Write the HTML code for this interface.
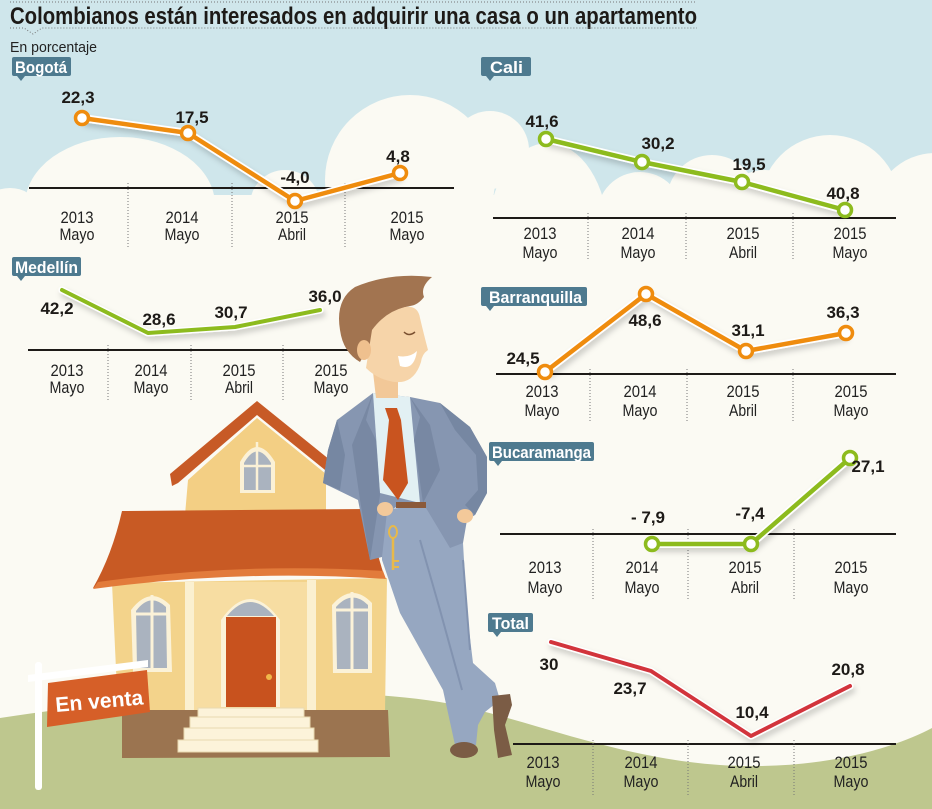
<!DOCTYPE html>
<html><head><meta charset="utf-8"><style>
html,body{margin:0;padding:0;background:#fbfaf3;}
svg{display:block}
text{font-family:"Liberation Sans Narrow","Liberation Sans",sans-serif;}
.n{font-family:"Liberation Sans",sans-serif;font-weight:bold;font-size:17px;fill:#1d1a17;text-anchor:middle}
.x{font-size:17px;fill:#222;text-anchor:middle}
.lb{font-family:"Liberation Sans",sans-serif;font-weight:bold;font-size:16.5px;fill:#fff}
.ax{stroke:#1d1a17;stroke-width:2}
.sp{stroke:#777;stroke-width:1;stroke-dasharray:1 2}
</style></head><body>
<svg width="932" height="809" viewBox="0 0 932 809">
<defs>
<filter id="sh" x="-10%" y="-30%" width="120%" height="160%"><feDropShadow dx="2" dy="4" stdDeviation="3" flood-color="#000" flood-opacity="0.18"/></filter>
</defs>
<!-- background -->
<rect x="0" y="0" width="932" height="809" fill="#fbfaf3"/>
<rect x="0" y="0" width="932" height="200" fill="#cfe6eb"/>
<g fill="#fbfaf3">
<ellipse cx="10" cy="205" rx="25" ry="17"/>
<ellipse cx="120" cy="205" rx="95" ry="68"/>
<circle cx="285" cy="205" r="35"/>
<circle cx="410" cy="180" r="85"/>
<circle cx="490" cy="150" r="39"/>
<ellipse cx="548" cy="235" rx="60" ry="92"/>
<circle cx="640" cy="215" r="43"/>
<circle cx="712" cy="200" r="45"/>
<circle cx="765" cy="215" r="45"/>
<circle cx="830" cy="205" r="70"/>
<circle cx="935" cy="215" r="62"/>
<rect x="0" y="195" width="932" height="614"/>
</g>
<path d="M0,718 C150,695 350,680 470,708 C560,730 650,768 760,766 C840,765 900,745 932,728 L932,809 L0,809 Z" fill="#bec78e"/>

<!-- title -->
<path d="M10,2 H697" stroke="#777" stroke-width="1" stroke-dasharray="1 2"/>
<text x="10" y="24" font-size="24" font-weight="bold" fill="#1d1a17" textLength="687" lengthAdjust="spacingAndGlyphs">Colombianos están interesados en adquirir una casa o un apartamento</text>
<path d="M10,28 H24 L33,34 L42,28 H697" fill="none" stroke="#777" stroke-width="1" stroke-dasharray="1 2"/>
<text x="10" y="52" font-size="15" fill="#222" textLength="87" lengthAdjust="spacingAndGlyphs">En porcentaje</text>

<!-- label boxes -->
<g fill="#4e7a8f">
<rect x="12" y="57" width="59" height="19" rx="2"/><path d="M17,76 L21,81 L25,76Z"/>
<rect x="481" y="57" width="50" height="19" rx="2"/><path d="M486,76 L490,81 L494,76Z"/>
<rect x="12" y="257" width="69" height="19" rx="2"/><path d="M17,276 L21,281 L25,276Z"/>
<rect x="481" y="287" width="106" height="19" rx="2"/><path d="M486,306 L490,311 L494,306Z"/>
<rect x="489" y="442" width="105" height="19" rx="2"/><path d="M494,461 L498,466 L502,461Z"/>
<rect x="488" y="613" width="45" height="19" rx="2"/><path d="M493,632 L497,637 L501,632Z"/>
</g>
<text class="lb" x="15" y="73" textLength="52" lengthAdjust="spacingAndGlyphs">Bogotá</text>
<text class="lb" x="490" y="73" textLength="33" lengthAdjust="spacingAndGlyphs">Cali</text>
<text class="lb" x="15" y="273" textLength="63" lengthAdjust="spacingAndGlyphs">Medellín</text>
<text class="lb" x="489" y="303" textLength="93" lengthAdjust="spacingAndGlyphs">Barranquilla</text>
<text class="lb" x="492" y="458" textLength="99" lengthAdjust="spacingAndGlyphs">Bucaramanga</text>
<text class="lb" x="492" y="629" textLength="37" lengthAdjust="spacingAndGlyphs">Total</text>

<!-- Bogotá -->
<line class="ax" x1="29" y1="188" x2="454" y2="188"/>
<line class="sp" x1="128" y1="183" x2="128" y2="248"/>
<line class="sp" x1="232" y1="183" x2="232" y2="248"/>
<line class="sp" x1="345" y1="183" x2="345" y2="248"/>
<g class="x">
<text x="77" y="223" textLength="33" lengthAdjust="spacingAndGlyphs">2013</text><text x="77" y="240" textLength="35" lengthAdjust="spacingAndGlyphs">Mayo</text>
<text x="182" y="223" textLength="33" lengthAdjust="spacingAndGlyphs">2014</text><text x="182" y="240" textLength="35" lengthAdjust="spacingAndGlyphs">Mayo</text>
<text x="292" y="223" textLength="33" lengthAdjust="spacingAndGlyphs">2015</text><text x="292" y="240" textLength="28" lengthAdjust="spacingAndGlyphs">Abril</text>
<text x="407" y="223" textLength="33" lengthAdjust="spacingAndGlyphs">2015</text><text x="407" y="240" textLength="35" lengthAdjust="spacingAndGlyphs">Mayo</text>
</g>
<g filter="url(#sh)">
<polyline points="82,118 188,133 295,201 400,173" fill="none" stroke="#fff" stroke-width="8" stroke-linejoin="round"/>
</g>
<polyline points="82,118 188,133 295,201 400,173" fill="none" stroke="#ef8c0e" stroke-width="4.5" stroke-linejoin="round"/>
<g fill="#fff" stroke="#ef8c0e" stroke-width="3.5">
<circle cx="82" cy="118" r="6.5"/><circle cx="188" cy="133" r="6.5"/><circle cx="295" cy="201" r="6.5"/><circle cx="400" cy="173" r="6.5"/>
</g>
<text class="n" x="78" y="103">22,3</text>
<text class="n" x="192" y="123">17,5</text>
<text class="n" x="295" y="183">-4,0</text>
<text class="n" x="398" y="162">4,8</text>

<!-- Cali -->
<line class="ax" x1="493" y1="218" x2="896" y2="218"/>
<line class="sp" x1="588" y1="213" x2="588" y2="260"/>
<line class="sp" x1="686" y1="213" x2="686" y2="260"/>
<line class="sp" x1="793" y1="213" x2="793" y2="260"/>
<g class="x">
<text x="540" y="239" textLength="33" lengthAdjust="spacingAndGlyphs">2013</text><text x="540" y="258" textLength="35" lengthAdjust="spacingAndGlyphs">Mayo</text>
<text x="638" y="239" textLength="33" lengthAdjust="spacingAndGlyphs">2014</text><text x="638" y="258" textLength="35" lengthAdjust="spacingAndGlyphs">Mayo</text>
<text x="743" y="239" textLength="33" lengthAdjust="spacingAndGlyphs">2015</text><text x="743" y="258" textLength="28" lengthAdjust="spacingAndGlyphs">Abril</text>
<text x="850" y="239" textLength="33" lengthAdjust="spacingAndGlyphs">2015</text><text x="850" y="258" textLength="35" lengthAdjust="spacingAndGlyphs">Mayo</text>
</g>
<g filter="url(#sh)">
<polyline points="546,139 642,162 742,182 845,210" fill="none" stroke="#fff" stroke-width="8" stroke-linejoin="round"/>
</g>
<polyline points="546,139 642,162 742,182 845,210" fill="none" stroke="#8dbb1e" stroke-width="4.5" stroke-linejoin="round"/>
<g fill="#fff" stroke="#8dbb1e" stroke-width="3.5">
<circle cx="546" cy="139" r="6.5"/><circle cx="642" cy="162" r="6.5"/><circle cx="742" cy="182" r="6.5"/><circle cx="845" cy="210" r="6.5"/>
</g>
<text class="n" x="542" y="127">41,6</text>
<text class="n" x="658" y="149">30,2</text>
<text class="n" x="749" y="170">19,5</text>
<text class="n" x="843" y="199">40,8</text>

<!-- Medellín -->
<line class="ax" x1="28" y1="350" x2="355" y2="350"/>
<line class="sp" x1="108" y1="345" x2="108" y2="402"/>
<line class="sp" x1="191" y1="345" x2="191" y2="402"/>
<line class="sp" x1="283" y1="345" x2="283" y2="402"/>
<g class="x">
<text x="67" y="376" textLength="33" lengthAdjust="spacingAndGlyphs">2013</text><text x="67" y="393" textLength="35" lengthAdjust="spacingAndGlyphs">Mayo</text>
<text x="151" y="376" textLength="33" lengthAdjust="spacingAndGlyphs">2014</text><text x="151" y="393" textLength="35" lengthAdjust="spacingAndGlyphs">Mayo</text>
<text x="239" y="376" textLength="33" lengthAdjust="spacingAndGlyphs">2015</text><text x="239" y="393" textLength="28" lengthAdjust="spacingAndGlyphs">Abril</text>
<text x="331" y="376" textLength="33" lengthAdjust="spacingAndGlyphs">2015</text><text x="331" y="393" textLength="35" lengthAdjust="spacingAndGlyphs">Mayo</text>
</g>
<g filter="url(#sh)">
<polyline points="62,290 148,333 235,327 320,310" fill="none" stroke="#fff" stroke-width="7" stroke-linejoin="round" stroke-linecap="round"/>
</g>
<polyline points="62,290 148,333 235,327 320,310" fill="none" stroke="#8dbb1e" stroke-width="4" stroke-linejoin="round" stroke-linecap="round"/>
<text class="n" x="57" y="314">42,2</text>
<text class="n" x="159" y="325">28,6</text>
<text class="n" x="231" y="318">30,7</text>
<text class="n" x="325" y="302">36,0</text>

<!-- Barranquilla -->
<line class="ax" x1="496" y1="374" x2="896" y2="374"/>
<line class="sp" x1="590" y1="369" x2="590" y2="423"/>
<line class="sp" x1="687" y1="369" x2="687" y2="423"/>
<line class="sp" x1="793" y1="369" x2="793" y2="423"/>
<g class="x">
<text x="542" y="397" textLength="33" lengthAdjust="spacingAndGlyphs">2013</text><text x="542" y="416" textLength="35" lengthAdjust="spacingAndGlyphs">Mayo</text>
<text x="640" y="397" textLength="33" lengthAdjust="spacingAndGlyphs">2014</text><text x="640" y="416" textLength="35" lengthAdjust="spacingAndGlyphs">Mayo</text>
<text x="743" y="397" textLength="33" lengthAdjust="spacingAndGlyphs">2015</text><text x="743" y="416" textLength="28" lengthAdjust="spacingAndGlyphs">Abril</text>
<text x="851" y="397" textLength="33" lengthAdjust="spacingAndGlyphs">2015</text><text x="851" y="416" textLength="35" lengthAdjust="spacingAndGlyphs">Mayo</text>
</g>
<g filter="url(#sh)">
<polyline points="545,372 646,294 746,351 846,333" fill="none" stroke="#fff" stroke-width="8" stroke-linejoin="round"/>
</g>
<polyline points="545,372 646,294 746,351 846,333" fill="none" stroke="#ef8c0e" stroke-width="4.5" stroke-linejoin="round"/>
<g fill="#fff" stroke="#ef8c0e" stroke-width="3.5">
<circle cx="545" cy="372" r="6.5"/><circle cx="646" cy="294" r="6.5"/><circle cx="746" cy="351" r="6.5"/><circle cx="846" cy="333" r="6.5"/>
</g>
<text class="n" x="523" y="364">24,5</text>
<text class="n" x="645" y="326">48,6</text>
<text class="n" x="748" y="336">31,1</text>
<text class="n" x="843" y="318">36,3</text>

<!-- Bucaramanga -->
<line class="ax" x1="500" y1="534" x2="896" y2="534"/>
<line class="sp" x1="593" y1="529" x2="593" y2="600"/>
<line class="sp" x1="688" y1="529" x2="688" y2="600"/>
<line class="sp" x1="794" y1="529" x2="794" y2="600"/>
<g class="x">
<text x="545" y="573" textLength="33" lengthAdjust="spacingAndGlyphs">2013</text><text x="545" y="593" textLength="35" lengthAdjust="spacingAndGlyphs">Mayo</text>
<text x="642" y="573" textLength="33" lengthAdjust="spacingAndGlyphs">2014</text><text x="642" y="593" textLength="35" lengthAdjust="spacingAndGlyphs">Mayo</text>
<text x="745" y="573" textLength="33" lengthAdjust="spacingAndGlyphs">2015</text><text x="745" y="593" textLength="28" lengthAdjust="spacingAndGlyphs">Abril</text>
<text x="851" y="573" textLength="33" lengthAdjust="spacingAndGlyphs">2015</text><text x="851" y="593" textLength="35" lengthAdjust="spacingAndGlyphs">Mayo</text>
</g>
<g filter="url(#sh)">
<polyline points="652,544 751,544 850,458" fill="none" stroke="#fff" stroke-width="8" stroke-linejoin="round"/>
</g>
<polyline points="652,544 751,544 850,458" fill="none" stroke="#8dbb1e" stroke-width="4.5" stroke-linejoin="round"/>
<g fill="#fff" stroke="#8dbb1e" stroke-width="3.5">
<circle cx="652" cy="544" r="6.5"/><circle cx="751" cy="544" r="6.5"/><circle cx="850" cy="458" r="6.5"/>
</g>
<text class="n" x="648" y="523">- 7,9</text>
<text class="n" x="750" y="519">-7,4</text>
<text class="n" x="868" y="472">27,1</text>

<!-- Total -->
<line class="ax" x1="513" y1="744" x2="896" y2="744"/>
<line class="sp" x1="593" y1="740" x2="593" y2="795"/>
<line class="sp" x1="688" y1="740" x2="688" y2="795"/>
<line class="sp" x1="794" y1="740" x2="794" y2="795"/>
<g class="x">
<text x="543" y="768" textLength="33" lengthAdjust="spacingAndGlyphs">2013</text><text x="543" y="787" textLength="35" lengthAdjust="spacingAndGlyphs">Mayo</text>
<text x="641" y="768" textLength="33" lengthAdjust="spacingAndGlyphs">2014</text><text x="641" y="787" textLength="35" lengthAdjust="spacingAndGlyphs">Mayo</text>
<text x="744" y="768" textLength="33" lengthAdjust="spacingAndGlyphs">2015</text><text x="744" y="787" textLength="28" lengthAdjust="spacingAndGlyphs">Abril</text>
<text x="851" y="768" textLength="33" lengthAdjust="spacingAndGlyphs">2015</text><text x="851" y="787" textLength="35" lengthAdjust="spacingAndGlyphs">Mayo</text>
</g>
<g filter="url(#sh)">
<polyline points="551,642 651,671 751,736 850,686" fill="none" stroke="#fff" stroke-width="7" stroke-linejoin="round" stroke-linecap="round"/>
</g>
<polyline points="551,642 651,671 751,736 850,686" fill="none" stroke="#d2343c" stroke-width="4" stroke-linejoin="round" stroke-linecap="round"/>
<text class="n" x="549" y="670">30</text>
<text class="n" x="630" y="694">23,7</text>
<text class="n" x="752" y="718">10,4</text>
<text class="n" x="848" y="675">20,8</text>

<!-- House -->
<polygon points="188,480 257,418 326,474 326,515 185,515" fill="#f3cf84"/>
<polygon points="170,474 257,401 330,460 330,474 257,415 178,483 172,486" fill="#c75a26"/>
<path d="M240,493 L240,462 Q257,432 275,462 L275,493 Z" fill="#fbf1d6"/>
<path d="M244,490 L244,463 Q257,440 271,463 L271,490 Z" fill="#aab3bf"/>
<line x1="257" y1="442" x2="257" y2="490" stroke="#fbf1d6" stroke-width="2.5"/>
<line x1="244" y1="466" x2="271" y2="466" stroke="#fbf1d6" stroke-width="2.5"/>
<path d="M112,583 L387,578 L385,712 L118,712 Z" fill="#f3d38b"/>
<rect x="192" y="582" width="117" height="128" fill="#f7dda2"/>
<path d="M122,511 L367,509 Q374,545 385,578 Q240,568 93,588 Q112,555 122,511 Z" fill="#c85a24"/>
<path d="M98,582 Q240,562 383,571 L386,579 Q240,569 93,589 Z" fill="#e27b3b"/>
<rect x="185" y="582" width="9" height="128" fill="#fbf0d0"/>
<rect x="307" y="580" width="9" height="130" fill="#fbf0d0"/>
<path d="M133,672 L131,610 Q150,585 170,605 L172,672 Z" fill="#fbf2d8"/>
<path d="M137,668 L136,611 Q150,592 166,607 L167,668 Z" fill="#aab3bf"/>
<line x1="152" y1="595" x2="152" y2="668" stroke="#fbf2d8" stroke-width="3"/>
<line x1="136" y1="614" x2="167" y2="614" stroke="#fbf2d8" stroke-width="3"/>
<path d="M333,673 L332,605 Q352,582 372,603 L372,673 Z" fill="#fbf2d8"/>
<path d="M337,669 L336,607 Q352,589 368,605 L368,669 Z" fill="#aab3bf"/>
<line x1="352" y1="592" x2="352" y2="669" stroke="#fbf2d8" stroke-width="3"/>
<line x1="336" y1="610" x2="368" y2="610" stroke="#fbf2d8" stroke-width="3"/>
<path d="M221,707 L221,620 Q250,578 280,620 L280,707 Z" fill="#fbf2d8"/>
<path d="M227,616 Q250,588 274,616 Z" fill="#aab3bf"/>
<rect x="226" y="617" width="50" height="90" fill="#c8521e"/>
<circle cx="269" cy="677" r="3" fill="#f0b84a"/>
<path d="M122,710 L388,710 L390,757 L122,758 Z" fill="#9b7450"/>
<g fill="#fcf3da" stroke="#e9d9b0" stroke-width="1">
<rect x="178" y="740" width="140" height="12"/>
<rect x="184" y="728" width="130" height="12"/>
<rect x="190" y="717" width="120" height="11"/>
<rect x="198" y="708" width="106" height="9"/>
</g>

<!-- Sign -->
<rect x="35" y="662" width="7" height="128" rx="3" fill="#fff"/>
<polygon points="28,675 148,660 148,667 28,682" fill="#fff"/>
<polygon points="48,683 147,670 150,712 47,727" fill="#d65f28"/>
<text x="56" y="712" font-family="Liberation Sans, sans-serif" font-weight="bold" font-size="21" fill="#fff" transform="rotate(-5 56 712)" textLength="88" lengthAdjust="spacingAndGlyphs">En venta</text>

<!-- Man -->
<!-- trousers -->
<path d="M382,510 L440,503 L463,543 L467,613 L473,663 L495,683 L500,700 L485,712 L478,725 L476,745 L455,745 L443,690 L400,613 L382,560 Z" fill="#96a7c1"/>
<path d="M420,540 L440,610 L462,690" fill="none" stroke="#8293b0" stroke-width="2"/>
<path d="M463,560 L470,650" fill="none" stroke="#8293b0" stroke-width="2"/>
<ellipse cx="464" cy="750" rx="14" ry="8" fill="#7b5c45"/>
<path d="M492,696 L510,694 L512,705 L505,725 L512,755 L498,758 L494,730 Z" fill="#7b5c45"/>
<!-- jacket -->
<path d="M337,420 L373,393 L410,397 L440,403 L470,427 L487,457 L487,493 L475,515 L467,520 L463,543 L450,548 L423,503 L400,505 L387,512 L382,557 L370,560 L358,500 L323,483 L328,450 Z" fill="#8696b1"/>
<path d="M440,403 L470,427 L487,457 L487,493 L475,515 L465,505 L478,490 L476,455 L455,430 Z" fill="#7687a2"/>
<path d="M337,420 L328,450 L323,483 L340,490 L345,455 Z" fill="#7687a2"/>
<path d="M373,393 L410,397 L420,503 L380,493 Z" fill="#e2f0f3"/>
<path d="M385,408 L397,408 L401,420 L408,483 L398,500 L383,480 L389,420 Z" fill="#c9541f"/>
<path d="M373,393 L366,420 L376,440 L380,495 L370,560 L360,500 L352,445 Z" fill="#7888a3"/>
<path d="M410,397 L420,417 L414,440 L423,503 L440,470 L430,425 Z" fill="#7888a3"/>
<rect x="396" y="502" width="30" height="6" fill="#8b5a3a"/>
<ellipse cx="385" cy="509" rx="8" ry="7" fill="#f3c99a"/>
<ellipse cx="465" cy="516" rx="8" ry="7" fill="#f3c99a"/>
<ellipse cx="393" cy="532" rx="4" ry="6" fill="none" stroke="#e8b94a" stroke-width="2"/>
<line x1="393" y1="538" x2="393" y2="570" stroke="#e8b94a" stroke-width="2.5"/>
<line x1="393" y1="561" x2="399" y2="561" stroke="#e8b94a" stroke-width="2"/>
<line x1="393" y1="567" x2="399" y2="567" stroke="#e8b94a" stroke-width="2"/>
<!-- head -->
<path d="M373,372 L398,372 L398,398 L376,398 Z" fill="#f2c898"/>
<path d="M340,330 Q335,300 355,287 Q390,272 432,277 Q420,287 424,297 Q418,305 410,306 Q390,310 378,325 Q372,340 368,348 L360,362 Q343,352 340,330 Z" fill="#a27450"/>
<path d="M372,330 Q385,312 405,307 Q418,305 420,318 Q424,335 428,350 Q422,354 421,362 Q414,384 395,382 Q378,380 366,368 Z" fill="#f6d4a9"/>
<ellipse cx="364" cy="350" rx="7" ry="10" fill="#efc08e"/>
<path d="M398,356 Q410,358 417,351 Q414,371 400,366 Z" fill="#fff"/>
<path d="M404,332 Q409,337 415,332" fill="none" stroke="#7a5030" stroke-width="1.5"/>
</svg>
</body></html>
